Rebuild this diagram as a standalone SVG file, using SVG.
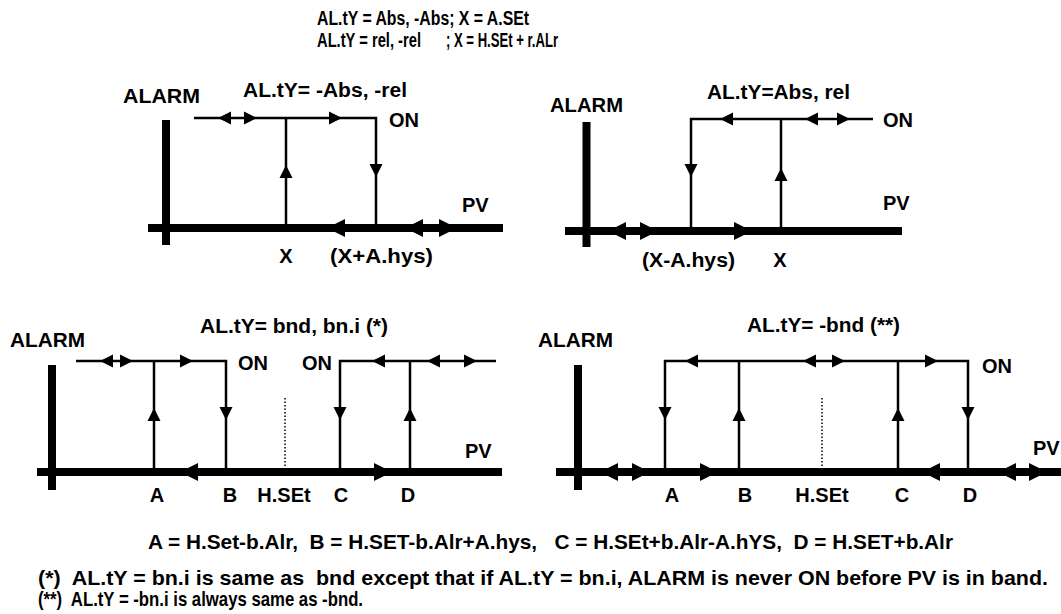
<svg xmlns="http://www.w3.org/2000/svg" width="1061" height="614" viewBox="0 0 1061 614">
<style>
text{font-family:"Liberation Sans",Arial,sans-serif;font-weight:bold;fill:#000}
.lbl{font-size:20px}
.ttl{font-size:20px}
.note{font-size:21px}
.axis{stroke:#000;stroke-width:8;fill:none}
.thin{stroke:#000;stroke-width:2.5;fill:none}
.dot{stroke:#000;stroke-width:1.5;stroke-dasharray:1.5,2;fill:none}
.mid{text-anchor:middle}
</style>
<defs>
<path id="bR" d="M0,0 L-18,-9 L-18,9 Z" fill="#000"/>
<path id="sR" d="M0,0 L-13,-6.5 L-13,6.5 Z" fill="#000"/>
</defs>
<rect width="1061" height="614" fill="#fff"/>
<g id="title">
<text class="ttl" x="317" y="25" textLength="212" lengthAdjust="spacingAndGlyphs">AL.tY = Abs, -Abs; X = A.SEt</text>
<text class="ttl" x="317" y="47" textLength="104" lengthAdjust="spacingAndGlyphs">AL.tY = rel, -rel</text>
<text class="ttl" x="446" y="47" textLength="112" lengthAdjust="spacingAndGlyphs">; X = H.SEt + r.ALr</text>
</g>
<g id="panel-abs-neg">
<line class="axis" x1="166" y1="120" x2="166" y2="245"/>
<line class="axis" x1="148" y1="228" x2="503" y2="228"/>
<g id="connectors-1">
<polyline class="thin" points="194,118 376,118 376,228"/>
<line class="thin" x1="286" y1="118" x2="286" y2="228"/>
<use href="#sR" transform="translate(218,118) rotate(180)"/>
<use href="#sR" transform="translate(257,118)"/>
<use href="#sR" transform="translate(342,118)"/>
<use href="#sR" transform="translate(286,165) rotate(-90)"/>
<use href="#sR" transform="translate(376,177) rotate(90)"/>
<use href="#bR" transform="translate(327,228) rotate(180)"/>
<use href="#bR" transform="translate(405,228) rotate(180)"/>
<use href="#bR" transform="translate(457,228)"/>
</g>
<text class="lbl" x="123" y="103" textLength="77" lengthAdjust="spacingAndGlyphs">ALARM</text>
<text class="lbl" x="243" y="97" textLength="164" lengthAdjust="spacingAndGlyphs">AL.tY= -Abs, -rel</text>
<text class="lbl" x="389" y="127">ON</text>
<text class="lbl" x="462" y="212">PV</text>
<text class="lbl mid" x="286" y="263">X</text>
<text class="lbl" x="330" y="263" textLength="103" lengthAdjust="spacingAndGlyphs">(X+A.hys)</text>
</g>
<g id="panel-abs">
<line class="axis" x1="586.5" y1="122" x2="586.5" y2="247"/>
<line class="axis" x1="565" y1="231" x2="902" y2="231"/>
<g id="connectors-2">
<polyline class="thin" points="873,119 691,119 691,231"/>
<line class="thin" x1="781" y1="119" x2="781" y2="231"/>
<use href="#sR" transform="translate(720,119) rotate(180)"/>
<use href="#sR" transform="translate(805,119) rotate(180)"/>
<use href="#sR" transform="translate(850,119)"/>
<use href="#sR" transform="translate(691,177) rotate(90)"/>
<use href="#sR" transform="translate(781,168) rotate(-90)"/>
<use href="#bR" transform="translate(608,231) rotate(180)"/>
<use href="#bR" transform="translate(658,231)"/>
<use href="#bR" transform="translate(752,231)"/>
</g>
<text class="lbl" x="550" y="112" textLength="73" lengthAdjust="spacingAndGlyphs">ALARM</text>
<text class="lbl" x="707" y="99" textLength="143" lengthAdjust="spacingAndGlyphs">AL.tY=Abs, rel</text>
<text class="lbl" x="883" y="127">ON</text>
<text class="lbl" x="883" y="210">PV</text>
<text class="lbl" x="642" y="267" textLength="93" lengthAdjust="spacingAndGlyphs">(X-A.hys)</text>
<text class="lbl mid" x="780" y="267">X</text>
</g>
<g id="panel-bnd">
<line class="axis" x1="52" y1="365" x2="52" y2="490"/>
<line class="axis" x1="37" y1="472" x2="502" y2="472"/>
<line class="dot" x1="285" y1="398" x2="285" y2="472"/>
<g id="connectors-3">
<polyline class="thin" points="76,361 226,361 226,472"/>
<line class="thin" x1="154" y1="361" x2="154" y2="472"/>
<polyline class="thin" points="496,361 340,361 340,472"/>
<line class="thin" x1="410" y1="361" x2="410" y2="472"/>
<use href="#sR" transform="translate(100,361) rotate(180)"/>
<use href="#sR" transform="translate(133,361)"/>
<use href="#sR" transform="translate(193,361)"/>
<use href="#sR" transform="translate(372,361) rotate(180)"/>
<use href="#sR" transform="translate(427,361) rotate(180)"/>
<use href="#sR" transform="translate(477,361)"/>
<use href="#sR" transform="translate(154,408) rotate(-90)"/>
<use href="#sR" transform="translate(226,420) rotate(90)"/>
<use href="#sR" transform="translate(340,420) rotate(90)"/>
<use href="#sR" transform="translate(410,408) rotate(-90)"/>
<use href="#bR" transform="translate(180,472) rotate(180)"/>
<use href="#bR" transform="translate(392,472)"/>
</g>
<text class="lbl" x="10" y="347" textLength="75" lengthAdjust="spacingAndGlyphs">ALARM</text>
<text class="lbl" x="200" y="333" textLength="188" lengthAdjust="spacingAndGlyphs">AL.tY= bnd, bn.i (*)</text>
<text class="lbl" x="238" y="370">ON</text>
<text class="lbl" x="302" y="370">ON</text>
<text class="lbl" x="465" y="458">PV</text>
<text class="lbl mid" x="157" y="502">A</text>
<text class="lbl mid" x="230" y="502">B</text>
<text class="lbl mid" x="284" y="502">H.SEt</text>
<text class="lbl mid" x="341" y="502">C</text>
<text class="lbl mid" x="408" y="502">D</text>
</g>
<g id="panel-neg-bnd">
<line class="axis" x1="578" y1="365" x2="578" y2="490"/>
<line class="axis" x1="556" y1="472" x2="1061" y2="472"/>
<line class="dot" x1="822" y1="398" x2="822" y2="472"/>
<g id="connectors-4">
<polyline class="thin" points="665,472 665,361 968,361 968,472"/>
<line class="thin" x1="739" y1="361" x2="739" y2="472"/>
<line class="thin" x1="898" y1="361" x2="898" y2="472"/>
<use href="#sR" transform="translate(685,361) rotate(180)"/>
<use href="#sR" transform="translate(803,361) rotate(180)"/>
<use href="#sR" transform="translate(845,361)"/>
<use href="#sR" transform="translate(938,361)"/>
<use href="#sR" transform="translate(665,420) rotate(90)"/>
<use href="#sR" transform="translate(739,408) rotate(-90)"/>
<use href="#sR" transform="translate(898,408) rotate(-90)"/>
<use href="#sR" transform="translate(968,420) rotate(90)"/>
<use href="#bR" transform="translate(600,472) rotate(180)"/>
<use href="#bR" transform="translate(650,472)"/>
<use href="#bR" transform="translate(718,472)"/>
<use href="#bR" transform="translate(922,472) rotate(180)"/>
<use href="#bR" transform="translate(998,472) rotate(180)"/>
<use href="#bR" transform="translate(1047,472)"/>
</g>
<text class="lbl" x="538" y="347" textLength="75" lengthAdjust="spacingAndGlyphs">ALARM</text>
<text class="lbl" x="747" y="332" textLength="153" lengthAdjust="spacingAndGlyphs">AL.tY= -bnd (**)</text>
<text class="lbl" x="982" y="373">ON</text>
<text class="lbl" x="1033" y="455">PV</text>
<text class="lbl mid" x="672" y="502">A</text>
<text class="lbl mid" x="745" y="502">B</text>
<text class="lbl mid" x="822" y="502">H.SEt</text>
<text class="lbl mid" x="902" y="502">C</text>
<text class="lbl mid" x="970" y="502">D</text>
</g>
<g id="notes">
<text class="note" x="148" y="549" textLength="805" lengthAdjust="spacingAndGlyphs" xml:space="preserve">A = H.Set-b.Alr,  B = H.SET-b.Alr+A.hys,   C = H.SEt+b.Alr-A.hYS,  D = H.SET+b.Alr</text>
<text class="note" x="38" y="585" textLength="1010" lengthAdjust="spacingAndGlyphs" xml:space="preserve">(*)  AL.tY = bn.i is same as  bnd except that if AL.tY = bn.i, ALARM is never ON before PV is in band.</text>
<text class="note" x="38" y="606" textLength="325" lengthAdjust="spacingAndGlyphs" xml:space="preserve">(**)  AL.tY = -bn.i is always same as -bnd.</text>
</g>
</svg>
